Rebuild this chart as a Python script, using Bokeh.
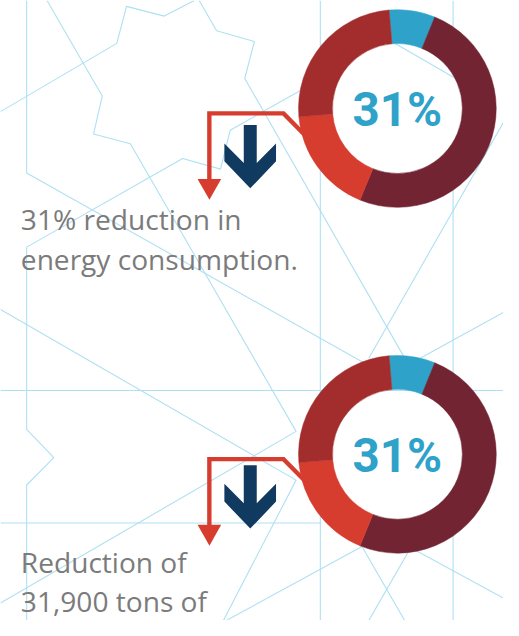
from bokeh.plotting import figure
from bokeh.models import Range1d
from bokeh.core.properties import value
from bokeh.embed import file_html
from bokeh.resources import INLINE

# ---------------- data ----------------
segment_names = ["Blue", "Maroon", "Orange", "Red"]
segment_share = [7.5, 50, 17.5, 25]
segment_colors = ["#2FA2CA", "#722433", "#D63D2F", "#A32C2D"]
donut_labels = ["31%", "31%"]
captions = [["31% reduction in", "energy consumption."],
            ["Reduction of", "31,900 tons of"]]

# ---------------- layout (reference pixel coords, y down) ----------------
W, H = 519, 636
W_FIG, H_FIG = 503, 620
start_deg = 94.8
donut_centers = [(409.5, 110.8), (409.5, 465.5)]
r_outer, r_inner = 102, 67
block_offsets = [0, 354.7]
arrow_offsets = [0, 349]
caption_x = 21
caption_baselines = [(235, 276), (587, 627)]
label_size, caption_size = 49, 29
baseline_fix = 0.37  # empirical em shift of the rendered baseline

# background pattern polylines
bg_lines = [
    [(27, 0), (27, 177), (390, 380)],
    [(48, 0), (105, 98), (96, 137), (134, 147), (305, 442), (0, 618)],
    [(0, 114), (120, 44), (130, 6), (169, 16), (200, 0)],
    [(205, 0), (223, 31), (262, 42), (252, 80), (420, 372)],
    [(310, 92), (237, 133), (227, 173), (188, 162), (27, 253), (27, 440),
     (55, 469), (27, 497), (27, 636)],
    [(519, 125), (380, 367)],
    [(519, 320), (433, 367)],
    [(330, 0), (330, 60)],
    [(330, 160), (330, 420)],
    [(330, 515), (330, 636)],
    [(467, 0), (467, 60)],
    [(467, 160), (467, 415)],
    [(467, 515), (467, 636)],
    [(0, 400), (519, 400)],
    [(0, 536), (330, 536)],
    [(0, 317), (305, 492), (230, 636)],
    [(233, 636), (373, 560), (417, 636)],
    [(430, 565), (519, 613)],
    [(420, 567), (380, 636)],
    [(400, 40), (480, 86)],
]

# shape templates (ref coords, first block)
red_path = [(215.5, 184), (215.5, 115.8), (292, 115.8), (314, 138)]
red_head = [(203.3, 183), (227.7, 183), (215.6, 204.5)]
blue_arrow = [(251, 127.7), (264.4, 127.7), (264.4, 166.7), (284.3, 146.7),
              (284.3, 165), (257.7, 192.7), (231, 165), (231, 146.7), (251, 166.7)]

k = W_FIG / W

p = figure(width=W_FIG, height=H_FIG, output_backend="svg", toolbar_location=None,
           x_range=Range1d(0, W), y_range=Range1d(0, H),
           x_axis_type=None, y_axis_type=None, min_border=0)
p.grid.visible = False
p.outline_line_color = None
p.background_fill_color = "white"
p.border_fill_color = "white"

def fy(y):
    return H - y

# background
p.multi_line(xs=[[pt[0] for pt in l] for l in bg_lines],
             ys=[[fy(pt[1]) for pt in l] for l in bg_lines],
             line_color="#AEE0F3", line_width=1.1)

for b in range(2):
    off = block_offsets[b]
    aoff = arrow_offsets[b]
    # red connector
    p.line(x=[q[0] for q in red_path], y=[fy(q[1] + off) for q in red_path],
           line_color="#D63D2F", line_width=4.5 * k, line_join="miter")
    p.patch(x=[q[0] for q in red_head], y=[fy(q[1] + off) for q in red_head],
            fill_color="#D63D2F", line_color=None)
    # dark blue arrow
    p.patch(x=[q[0] for q in blue_arrow], y=[fy(q[1] + aoff) for q in blue_arrow],
            fill_color="#103A5F", line_color=None)
    # donut
    cx, cy = donut_centers[b]
    cum = 0.0
    starts, ends = [], []
    for s in segment_share:
        a0 = start_deg - cum * 3.6
        a1 = start_deg - (cum + s) * 3.6
        starts.append(a0)
        ends.append(a1)
        cum += s
    p.annular_wedge(x=[cx] * 4, y=[fy(cy)] * 4, inner_radius=r_inner, outer_radius=r_outer,
                    start_angle=starts, end_angle=ends, start_angle_units="deg",
                    end_angle_units="deg", direction="clock",
                    fill_color=segment_colors, line_color=segment_colors, line_width=0.5)
    p.text(x=[cx], y=[fy(cy + 19.5 - baseline_fix * label_size)], text=[donut_labels[b]],
           text_align="center", text_baseline="alphabetic", text_font=value("Roboto"),
           text_font_style="bold", text_font_size="%.1fpx" % (label_size * k),
           text_color="#2FA2CA")
    # captions
    for line, base in zip(captions[b], caption_baselines[b]):
        p.text(x=[caption_x], y=[fy(base - baseline_fix * caption_size)], text=[line],
               text_align="left", text_baseline="alphabetic", text_font=value("Open Sans"),
               text_font_size="%.1fpx" % (caption_size * k), text_color="#7B7B7B")

open("out.html", "w").write(file_html(p, INLINE))
